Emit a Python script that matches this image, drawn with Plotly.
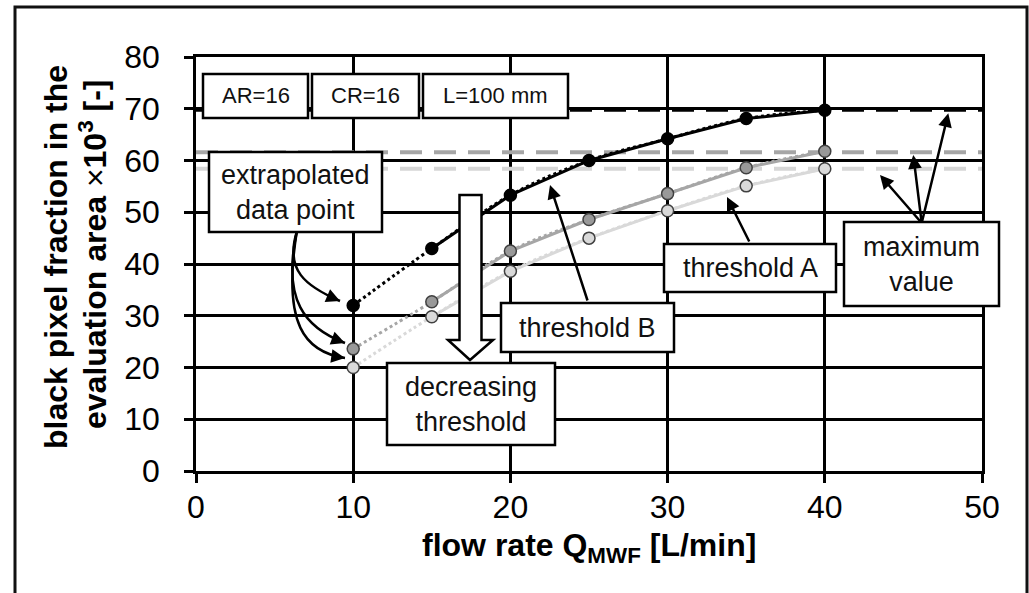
import plotly.graph_objects as go

# ---------------- data ----------------
flow_rate = [10, 15, 20, 25, 30, 35, 40]
thr_black = [32.0, 43.0, 53.3, 60.0, 64.2, 68.1, 69.7]
thr_dark = [23.6, 32.7, 42.5, 48.6, 53.6, 58.6, 61.8]
thr_light = [20.0, 29.8, 38.6, 45.0, 50.3, 55.1, 58.4]
max_black = 69.8
max_dark = 61.6
max_light = 58.4
x_ticks = [0, 10, 20, 30, 40, 50]
y_ticks = [0, 10, 20, 30, 40, 50, 60, 70, 80]

# ---------------- layout geometry (pixels) ----------------
W, H = 1029, 593
L, R, T, B = 196, 982, 57, 471
PW, PH = R - L, B - T


def px(x):
    return (x - L) / PW


def py(y):
    return (B - y) / PH


FONT = "Liberation Sans, Arial, sans-serif"
BLACK = "#000000"
DARK = "#a6a6a6"
LIGHT = "#d9d9d9"

fig = go.Figure()

# maximum value dashed lines
for val, col in [(max_dark, "#a6a6a6"), (max_light, "#d6d6d6"), (max_black, BLACK)]:
    fig.add_trace(go.Scatter(x=[0, 50], y=[val, val], mode="lines",
                             line=dict(color=col, width=4, dash="22px,12px"),
                             hoverinfo="skip", showlegend=False))

# dotted lines through all points
for vals, col in [(thr_light, LIGHT), (thr_dark, DARK), (thr_black, BLACK)]:
    fig.add_trace(go.Scatter(x=flow_rate, y=vals, mode="lines",
                             line=dict(color=col, width=3, dash="dot", shape="spline"),
                             hoverinfo="skip", showlegend=False))

# solid lines through measured points
for vals, col in [(thr_light, LIGHT), (thr_dark, DARK), (thr_black, BLACK)]:
    fig.add_trace(go.Scatter(x=flow_rate[1:], y=vals[1:], mode="lines",
                             line=dict(color=col, width=3),
                             hoverinfo="skip", showlegend=False))

# markers
for vals, fill, edge in [(thr_light, "#d9d9d9", "#404040"),
                         (thr_dark, "#999999", "#404040"),
                         (thr_black, "#000000", "#000000")]:
    fig.add_trace(go.Scatter(x=flow_rate, y=vals, mode="markers",
                             marker=dict(size=12, color=fill, line=dict(color=edge, width=1.5)),
                             hoverinfo="skip", showlegend=False))

shapes = []
annotations = []

# outer frame
shapes.append(dict(type="rect", xref="paper", yref="paper",
                   x0=px(15), x1=px(1027), y0=py(640), y1=py(7),
                   line=dict(color="#111111", width=3), fillcolor="rgba(0,0,0,0)", layer="below"))

# big white arrow (decreasing threshold)
pts = [(459.5, 195), (481.5, 195), (481.5, 340), (493, 340), (470, 360), (448, 340), (459.5, 340)]
path = "M " + " L ".join(f"{px(a):.5f},{py(b):.5f}" for a, b in pts) + " Z"
shapes.append(dict(type="path", xref="paper", yref="paper", path=path,
                   fillcolor="white", line=dict(color=BLACK, width=2.5), layer="above"))

# curved arrows from "extrapolated data point"
curves = [
    [(296.7, 232), (285, 270), (305, 286), (340, 301)],
    [(296.7, 232), (282, 300), (305, 328), (345, 343)],
    [(296.7, 232), (282, 325), (305, 352), (345, 358)],
]
for c in curves:
    (a0, b0), (a1, b1), (a2, b2), (a3, b3) = c
    p = (f"M {px(a0):.5f},{py(b0):.5f} C {px(a1):.5f},{py(b1):.5f} "
         f"{px(a2):.5f},{py(b2):.5f} {px(a3):.5f},{py(b3):.5f}")
    shapes.append(dict(type="path", xref="paper", yref="paper", path=p,
                       line=dict(color=BLACK, width=2.5), layer="above"))
    dx, dy = a3 - a2, b3 - b2
    n = (dx * dx + dy * dy) ** 0.5
    annotations.append(dict(xref="paper", yref="paper", x=px(a3), y=py(b3), text="",
                            showarrow=True, arrowhead=2, arrowsize=1.1, arrowwidth=2.5,
                            arrowcolor=BLACK, ax=-dx / n * 14, ay=-dy / n * 14, standoff=0))

# boxes
boxes = [
    (203, 74, 308, 118, "AR=16", 22),
    (312, 74, 419, 118, "CR=16", 22),
    (423, 74, 568, 118, "L=100 mm", 22),
    (209, 152, 382, 232, "extrapolated<br>data point", 27),
    (387, 363, 555, 445, "decreasing<br>threshold", 27),
    (501, 303, 674, 352, "threshold B", 27),
    (664, 244, 836, 292, "threshold A", 27),
    (844, 222, 999, 306, "maximum<br>value", 27),
]
for x0, y0, x1, y1, txt, fs in boxes:
    shapes.append(dict(type="rect", xref="paper", yref="paper",
                       x0=px(x0), x1=px(x1), y0=py(y1), y1=py(y0),
                       fillcolor="white", line=dict(color=BLACK, width=2.5), layer="above"))
    annotations.append(dict(xref="paper", yref="paper", x=px((x0 + x1) / 2), y=py((y0 + y1) / 2),
                            text=txt, showarrow=False, font=dict(family=FONT, size=fs, color="#111111"),
                            xanchor="center", yanchor="middle"))

# straight arrows (tip, tail)
arrows = [
    ((550, 185), (588, 302)),
    ((727, 197), (750, 243)),
    ((880, 175), (921.7, 223)),
    ((913.3, 155), (921.7, 223)),
    ((948.3, 113.3), (921.7, 223)),
]
for (tx, ty), (sx, sy) in arrows:
    annotations.append(dict(xref="paper", yref="paper", x=px(tx), y=py(ty), text="",
                            showarrow=True, arrowhead=2, arrowsize=1.1, arrowwidth=2.5,
                            arrowcolor=BLACK, ax=sx - tx, ay=sy - ty, standoff=0))

# axis titles
annotations.append(dict(xref="paper", yref="paper", x=px(56), y=py(257), textangle=-90,
                        text="<b>black pixel fraction in the</b>", showarrow=False,
                        font=dict(family=FONT, size=32, color=BLACK), xanchor="center", yanchor="middle"))
annotations.append(dict(xref="paper", yref="paper", x=px(93), y=py(255), textangle=-90,
                        text="<b>evaluation area </b>×<b>10<sup>3</sup> [-]</b>", showarrow=False,
                        font=dict(family=FONT, size=32, color=BLACK), xanchor="center", yanchor="middle"))
annotations.append(dict(xref="paper", yref="paper", x=px(589), y=py(547),
                        text="<b>flow rate Q<sub>MWF</sub> [L/min]</b>", showarrow=False,
                        font=dict(family=FONT, size=32, color=BLACK), xanchor="center", yanchor="middle"))

axis_common = dict(showgrid=True, gridcolor=BLACK, gridwidth=2.5, showline=True, linecolor=BLACK,
                   linewidth=2.5, mirror=True, ticks="outside", ticklen=9, tickwidth=2.5,
                   tickcolor=BLACK, zeroline=False, tickfont=dict(family=FONT, size=32, color=BLACK))

fig.update_layout(
    width=W, height=H,
    margin=dict(l=L, r=W - R, t=T, b=H - B),
    paper_bgcolor="white", plot_bgcolor="white",
    xaxis=dict(range=[0, 50], tickvals=x_ticks, ticklabelstandoff=-3, **axis_common),
    yaxis=dict(range=[0, 80], tickvals=y_ticks, ticklabelstandoff=18, **axis_common),
    shapes=shapes, annotations=annotations, showlegend=False,
)

fig.write_html("out.html")
